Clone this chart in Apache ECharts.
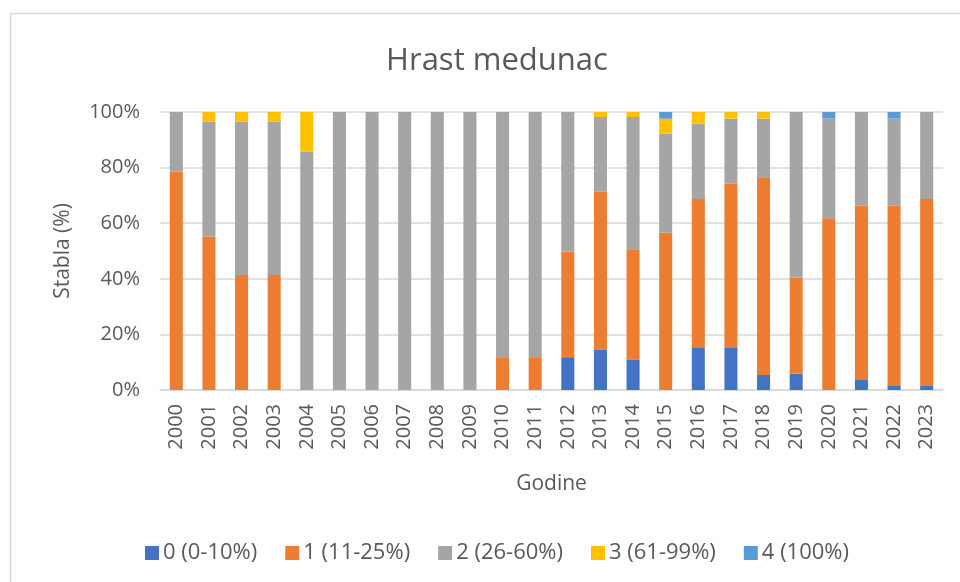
<!DOCTYPE html>
<html>
<head>
<meta charset="utf-8">
<script src="https://cdn.jsdelivr.net/npm/echarts@6/dist/echarts.min.js"></script>
<style>
  html, body { margin: 0; padding: 0; background: #fff; }
  #chart { width: 960px; height: 582px; }
</style>
</head>
<body>
<div id="chart"></div>
<script>
// Godine (years) on the category axis
const years = ['2000','2001','2002','2003','2004','2005','2006','2007','2008','2009','2010','2011',
               '2012','2013','2014','2015','2016','2017','2018','2019','2020','2021','2022','2023'];

// Share of trees (%) per defoliation class, per year
const class0 = [0, 0, 0, 0, 0, 0, 0, 0, 0, 0, 0, 0, 11.8, 14.6, 11.0, 0, 15.1, 15.1, 5.4, 5.9, 0, 3.6, 1.7, 1.7];
const class1 = [78.6, 55.2, 41.4, 41.4, 0, 0, 0, 0, 0, 0, 11.8, 11.8, 38.0, 56.7, 39.6, 56.6, 53.6, 59.1, 71.1, 34.6, 61.8, 62.7, 64.6, 67.0];
const class2 = [21.4, 41.4, 55.2, 55.2, 85.7, 100, 100, 100, 100, 100, 88.2, 88.2, 50.2, 26.9, 47.6, 35.6, 27.2, 23.4, 21.1, 59.5, 35.8, 33.7, 31.3, 31.3];
const class3 = [0, 3.4, 3.4, 3.4, 14.3, 0, 0, 0, 0, 0, 0, 0, 0, 1.8, 1.8, 5.4, 4.1, 2.4, 2.4, 0, 0, 0, 0, 0];
const class4 = [0, 0, 0, 0, 0, 0, 0, 0, 0, 0, 0, 0, 0, 0, 0, 2.4, 0, 0, 0, 0, 2.4, 0, 2.4, 0];

const seriesNames = ['0 (0-10%)', '1 (11-25%)', '2 (26-60%)', '3 (61-99%)', '4 (100%)'];
const yTicks = [0, 20, 40, 60, 80, 100];

const colors = ['#4472C4', '#ED7D31', '#A5A5A5', '#FFC000', '#5B9BD5'];
const font = '"Open Sans", "Noto Sans", sans-serif';
const textColor = '#595959';

const chart = echarts.init(document.getElementById('chart'), null, { renderer: 'canvas' });

const values = [class0, class1, class2, class3, class4];

chart.setOption({
  animation: false,
  backgroundColor: '#ffffff',
  color: colors,
  textStyle: { fontFamily: font },
  graphic: [{
    type: 'rect',
    shape: { x: 10.5, y: 13.5, width: 980, height: 620 },
    style: { fill: 'none', stroke: '#D9D9D9', lineWidth: 1.5 },
    silent: true,
    z: -1
  }],
  title: {
    text: 'Hrast medunac',
    left: 492,
    top: 41,
    textAlign: 'center',
    textStyle: { fontFamily: font, fontSize: 31, fontWeight: 'normal', color: textColor }
  },
  legend: {
    data: seriesNames,
    left: 140,
    top: 537,
    itemWidth: 14,
    itemHeight: 14,
    itemGap: 28,
    icon: 'rect',
    textStyle: { fontFamily: font, fontSize: 22, color: textColor, padding: [0, 0, 0, -1] }
  },
  grid: { left: 160, right: 17, top: 112, bottom: 192, containLabel: false },
  xAxis: {
    type: 'category',
    data: years,
    name: 'Godine',
    nameLocation: 'middle',
    nameGap: 84,
    nameTextStyle: { fontFamily: font, fontSize: 21, color: textColor },
    axisLine: { lineStyle: { color: '#D9D9D9', width: 1.5 } },
    axisTick: { show: false },
    axisLabel: { rotate: 90, fontFamily: font, fontSize: 20, color: textColor, margin: 14 }
  },
  yAxis: {
    type: 'value',
    min: yTicks[0],
    max: yTicks[yTicks.length - 1],
    interval: yTicks[1] - yTicks[0],
    name: 'Stabla (%)',
    nameLocation: 'middle',
    nameGap: 86,
    nameRotate: 90,
    nameTextStyle: { fontFamily: font, fontSize: 21, color: textColor },
    axisLine: { show: false },
    axisTick: { show: false },
    axisLabel: { formatter: '{value}%', fontFamily: font, fontSize: 20, color: textColor, margin: 20 },
    splitLine: { lineStyle: { color: '#D9D9D9', width: 1.5 } }
  },
  series: seriesNames.map((name, i) => ({
    name: name,
    type: 'bar',
    stack: 'total',
    barWidth: '40%',
    data: values[i],
    itemStyle: { color: colors[i] }
  }))
});
</script>
</body>
</html>
